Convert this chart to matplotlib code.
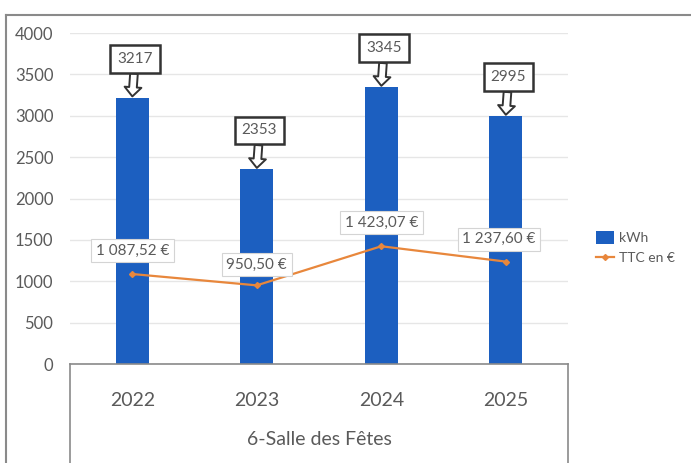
import matplotlib.pyplot as plt
from matplotlib.lines import Line2D

plt.rcParams["font.family"] = ["Lato", "DejaVu Sans"]

years = ["2022", "2023", "2024", "2025"]
kwh = [3217, 2353, 3345, 2995]
ttc = [1087.52, 950.50, 1423.07, 1237.60]
ttc_labels = ["1 087,52 €", "950,50 €", "1 423,07 €", "1 237,60 €"]
yticks = [0, 500, 1000, 1500, 2000, 2500, 3000, 3500, 4000]

BLUE = "#1c5fc0"
ORANGE = "#e8873c"
INK = "#5a5a5a"
FRAME = "#8a8a8a"
GRID = "#e6e6e6"

fig = plt.figure(figsize=(6.91, 4.63), dpi=100)
ax = fig.add_axes([0.1013, 0.2138, 0.7207, 0.7149])

x = list(range(len(years)))
bars = ax.bar(x, kwh, width=0.265, color=BLUE, zorder=2, label="kWh")
line, = ax.plot(x, ttc, color=ORANGE, linewidth=1.6, marker="D", markersize=3,
                zorder=3, label="TTC en €")

ax.set_xlim(-0.5, len(years) - 0.5)
ax.set_ylim(0, 4000)
ax.set_yticks(yticks)
ax.set_yticklabels([str(t) for t in yticks])
ax.set_xticks([])
ax.grid(axis="y", color=GRID, linewidth=1)
ax.set_axisbelow(True)
for sp in ("top", "right", "left"):
    ax.spines[sp].set_visible(False)
ax.spines["bottom"].set_color(FRAME)
ax.spines["bottom"].set_linewidth(1.2)
ax.tick_params(axis="y", length=0, pad=12, labelsize=12, colors=INK)

# callouts on the bars
for xi, v in zip(x, kwh):
    ax.annotate(str(v), xy=(xi, v), xytext=(2, 28), textcoords="offset points",
                ha="center", va="center", fontsize=11, color=INK,
                bbox=dict(boxstyle="square,pad=0.45", fc="white", ec="#333333", lw=1.8),
                arrowprops=dict(arrowstyle="simple,head_length=0.6,head_width=1.1,tail_width=0.5",
                                fc="white", ec="#333333", lw=1.4, shrinkA=0, shrinkB=1),
                zorder=5)

# labels on the line
offs = [(0, 17), (0, 15), (0, 17), (-5, 16)]
for xi, v, lab, o in zip(x, ttc, ttc_labels, offs):
    ax.annotate(lab, xy=(xi, v), xytext=o, textcoords="offset points",
                ha="center", va="center", fontsize=11, color=INK,
                bbox=dict(boxstyle="square,pad=0.3", fc="white", ec="#d4d4d4", lw=0.8),
                zorder=5)

# category box under the plot
for xi, yr in zip(x, years):
    ax.text(xi, -0.11, yr, transform=ax.get_xaxis_transform(),
            ha="center", va="center", fontsize=14, color=INK)
fig.text(0.1013 + 0.7207 / 2, 0.05, "6-Salle des Fêtes", ha="center",
         va="center", fontsize=14, color=INK)
fig.add_artist(Line2D([0.1013, 0.1013], [0.0, 0.2138], color=FRAME, lw=1.2))
fig.add_artist(Line2D([0.822, 0.822], [0.0, 0.2138], color=FRAME, lw=1.2))

# outer frame of the screenshot
fig.add_artist(Line2D([6 / 691, 1.0], [1 - 15 / 463, 1 - 15 / 463], color=FRAME, lw=1.5))
fig.add_artist(Line2D([6 / 691, 6 / 691], [0.0, 1 - 15 / 463], color=FRAME, lw=1.5))

fig.legend([bars, line], ["kWh", "TTC en €"], loc="center left",
           bbox_to_anchor=(0.845, 0.465), frameon=False,
           fontsize=10, labelcolor=INK, handlelength=1.3, handleheight=1.0,
           handletextpad=0.3, labelspacing=0.5)

fig.savefig("out.png", dpi=100, facecolor="white")
